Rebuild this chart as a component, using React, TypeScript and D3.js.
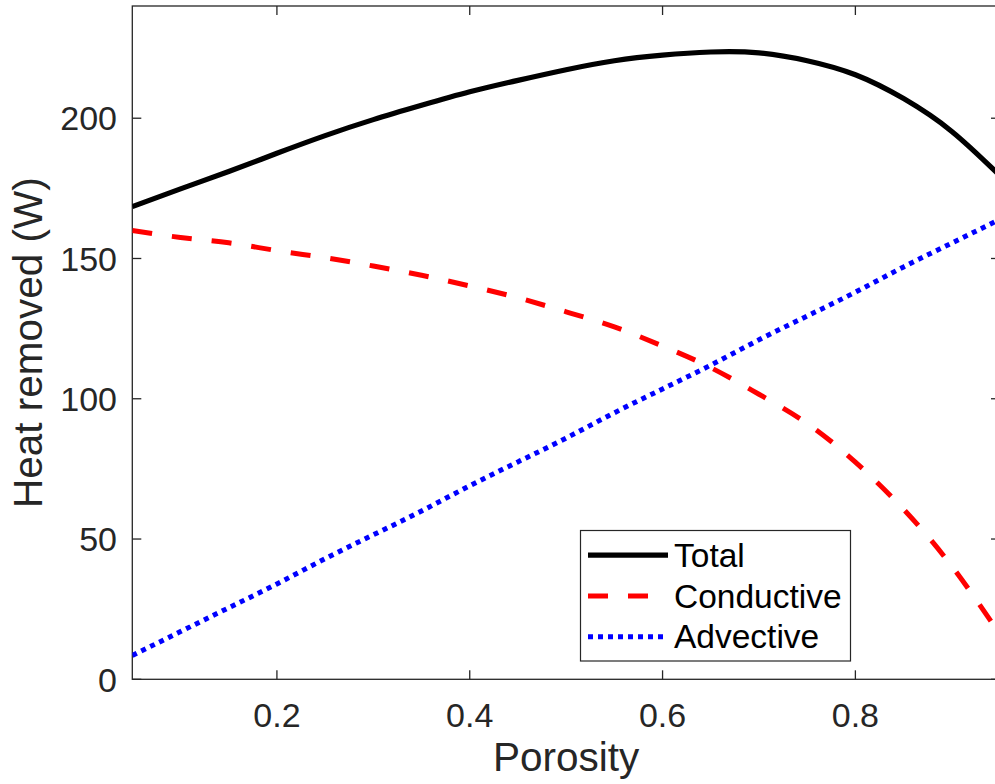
import React from "react";
import * as d3 from "d3";

const porosity = [0.05, 0.1, 0.15, 0.2, 0.25, 0.3, 0.35, 0.4, 0.45, 0.5, 0.55, 0.6, 0.65, 0.7, 0.75, 0.8, 0.85, 0.9, 0.95];
const totalHeat = [168.5, 174.8, 181, 187.5, 193.8, 199.5, 204.6, 209.4, 213.5, 217.3, 220.5, 222.5, 223.6, 223.3, 220.5, 215.5, 207, 195.3, 179.5];
const conductiveHeat = [160, 157.5, 155.6, 152.8, 150.3, 147.3, 144, 140.2, 136, 131, 125.6, 118.8, 111.1, 101.6, 91.2, 77.4, 60.6, 40.3, 16];
const advectiveHeat = [8.5, 17, 25.5, 34, 43, 51.5, 60, 69, 77.5, 86, 95, 103.5, 112, 121, 129.5, 138, 147, 155.5, 164];

const xTicks = [0.2, 0.4, 0.6, 0.8];
const yTicks = [0, 50, 100, 150, 200];
const seriesNames = ["Total", "Conductive", "Advective"];
const xLabel = "Porosity";
const yLabel = "Heat removed (W)";

const W = 995;
const H = 784;
const LEFT = 132.3;
const RIGHT = 1000;
const TOP = 6;
const BOTTOM = 679.3;
const AXC = "#262626";
const FONT = "'Liberation Sans', Arial, Helvetica, sans-serif";

const series = [
  { name: seriesNames[0], values: totalHeat, color: "#000000", dash: "none", width: 5.2 },
  { name: seriesNames[1], values: conductiveHeat, color: "#ff0000", dash: "20 20", width: 5 },
  { name: seriesNames[2], values: advectiveHeat, color: "#0000ff", dash: "5 5", width: 5 },
];

export default function App() {
  const x = d3.scaleLinear().domain([0.05, 0.95]).range([LEFT, RIGHT]);
  const y = d3.scaleLinear().domain([0, 240]).range([BOTTOM, TOP]);
  const tickLen = 9;

  const lineGen = (vals: number[]) =>
    d3
      .line<number>()
      .x((_, i) => x(porosity[i]))
      .y((d) => y(d))
      .curve(d3.curveNatural)(vals) || "";

  const legX = 580.5;
  const legY = 530.5;
  const legW = 270;
  const legH = 130.5;
  const legBase = [566.7, 607.5, 648.3];

  return (
    <svg
      width={W}
      height={H}
      style={{ position: "absolute", left: 0, top: 0, background: "#fff" }}
      fontFamily={FONT}
    >
      <defs>
        <clipPath id="plotclip">
          <rect x={LEFT} y={TOP} width={RIGHT - LEFT} height={BOTTOM - TOP} />
        </clipPath>
      </defs>
      <rect x={0} y={0} width={W} height={H} fill="#fff" />

      {/* axes box */}
      <rect x={LEFT} y={TOP} width={RIGHT - LEFT} height={BOTTOM - TOP} fill="none" stroke={AXC} strokeWidth={1.3} />

      {/* x ticks */}
      {xTicks.map((t) => (
        <g key={"xt" + t}>
          <line x1={x(t)} x2={x(t)} y1={BOTTOM} y2={BOTTOM - tickLen} stroke={AXC} strokeWidth={1.3} />
          <line x1={x(t)} x2={x(t)} y1={TOP} y2={TOP + tickLen} stroke={AXC} strokeWidth={1.3} />
          <text x={x(t)} y={727} textAnchor="middle" fontSize={34} fill={AXC}>
            {t.toString()}
          </text>
        </g>
      ))}

      {/* y ticks */}
      {yTicks.map((t) => (
        <g key={"yt" + t}>
          <line x1={LEFT} x2={LEFT + tickLen} y1={y(t)} y2={y(t)} stroke={AXC} strokeWidth={1.3} />
          <line x1={RIGHT} x2={RIGHT - tickLen} y1={y(t)} y2={y(t)} stroke={AXC} strokeWidth={1.3} />
          <text x={117} y={y(t) + 12.2} textAnchor="end" fontSize={34} fill={AXC}>
            {t}
          </text>
        </g>
      ))}

      {/* axis labels */}
      <text x={(LEFT + RIGHT) / 2} y={771} textAnchor="middle" fontSize={40.5} fill={AXC}>
        {xLabel}
      </text>
      <text
        transform={`translate(42, ${(TOP + BOTTOM) / 2}) rotate(-90)`}
        textAnchor="middle"
        fontSize={40.5}
        fill={AXC}
      >
        {yLabel}
      </text>

      {/* series */}
      <g clipPath="url(#plotclip)">
        {series.map((s) => (
          <path
            key={s.name}
            d={lineGen(s.values)}
            fill="none"
            stroke={s.color}
            strokeWidth={s.width}
            strokeDasharray={s.dash}
            strokeLinecap="butt"
            strokeLinejoin="round"
          />
        ))}
      </g>

      {/* legend */}
      <rect x={legX} y={legY} width={legW} height={legH} fill="#fff" stroke={AXC} strokeWidth={1.2} />
      {series.map((s, i) => (
        <g key={"leg" + s.name}>
          <line
            x1={588}
            x2={668}
            y1={legBase[i] - 11.6}
            y2={legBase[i] - 11.6}
            stroke={s.color}
            strokeWidth={s.width}
            strokeDasharray={s.dash}
          />
          <text x={674} y={legBase[i]} fontSize={33.5} fill="#000">
            {s.name}
          </text>
        </g>
      ))}
    </svg>
  );
}
